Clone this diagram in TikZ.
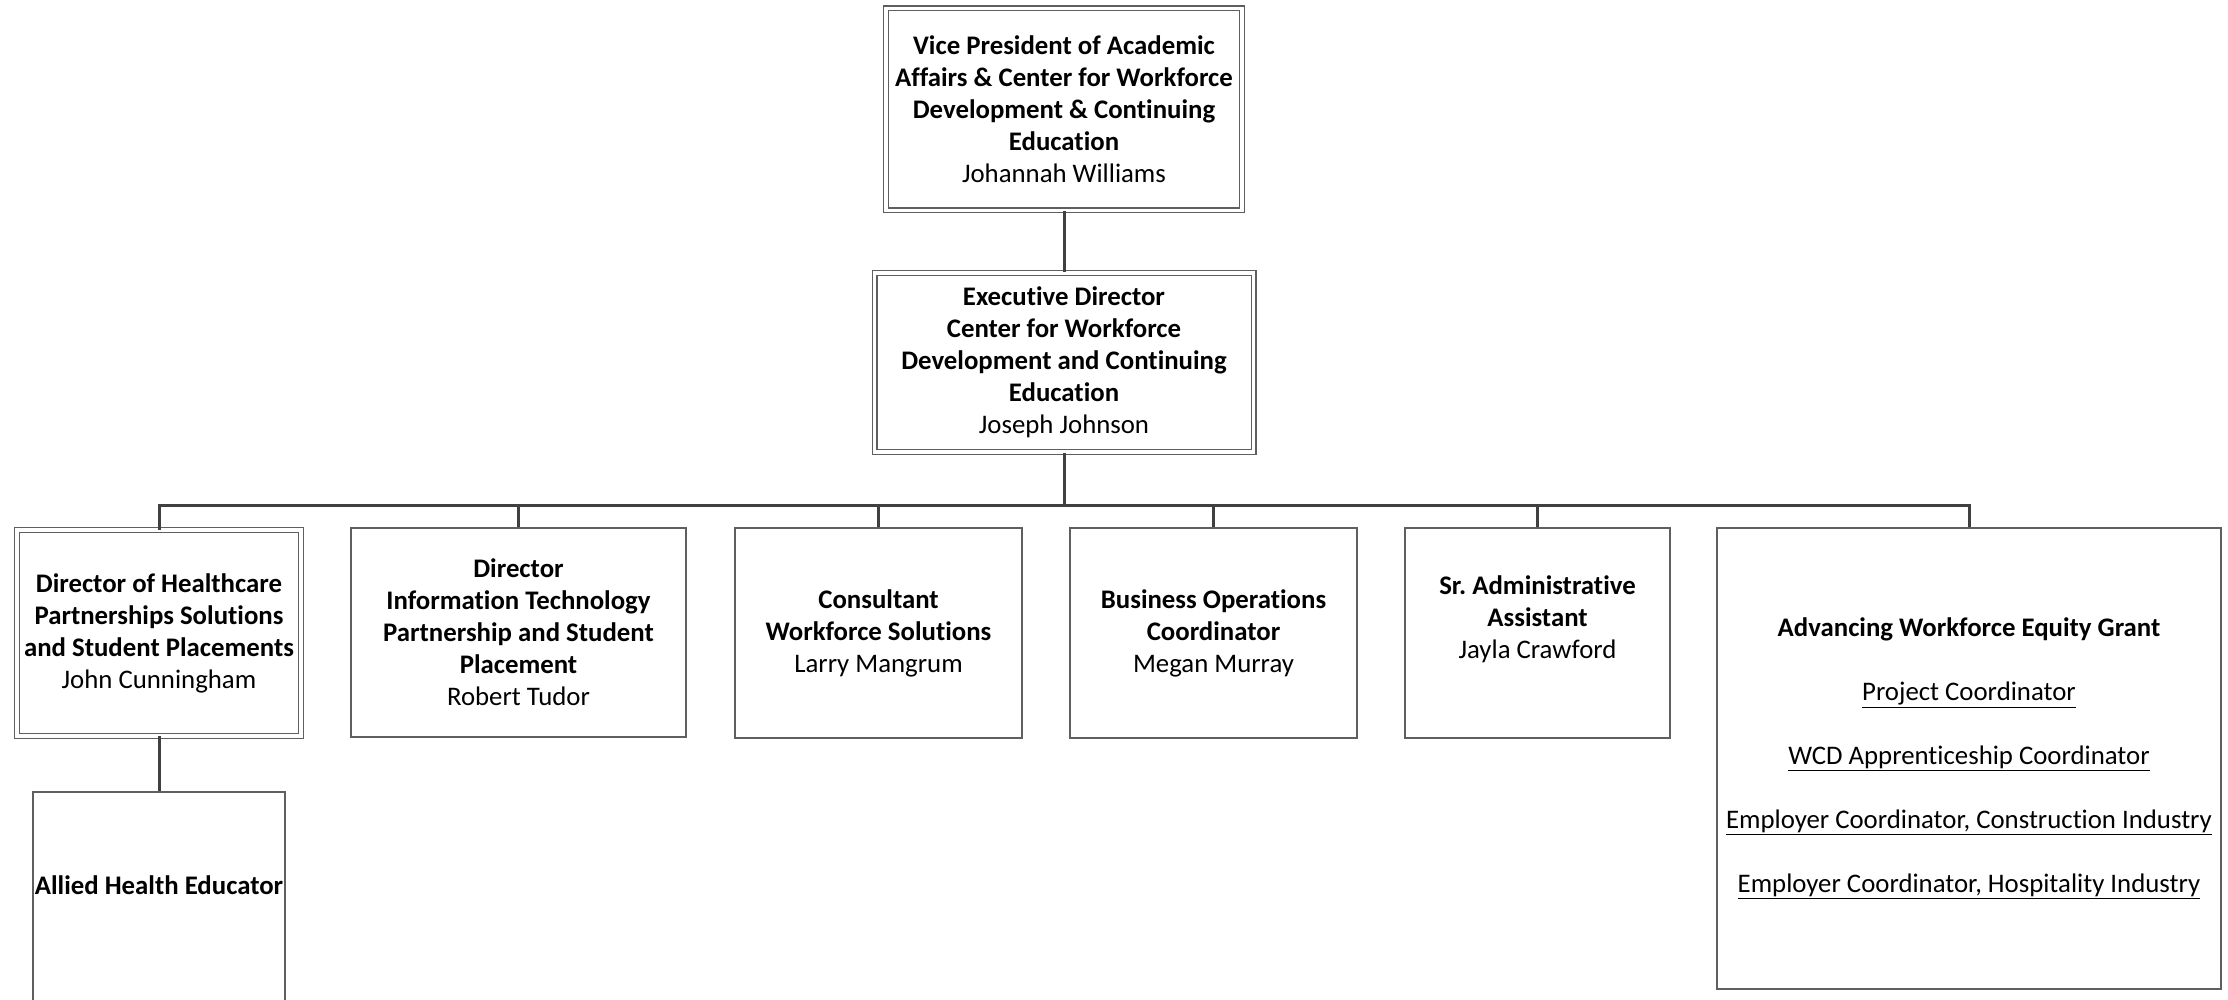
\documentclass[tikz,border=0pt]{standalone}
\usepackage{fontspec}
\setmainfont{Carlito}[Ligatures={NoCommon}]
\definecolor{boxgray}{RGB}{95,95,95}
\definecolor{conngray}{RGB}{64,64,64}
\frenchspacing
\begin{document}
\begin{tikzpicture}[x=1pt,y=-1pt,
  box/.style={draw=boxgray, line width=1.2pt, rectangle, inner sep=0pt, align=center,
    font=\fontsize{26.8}{32}\selectfont, fill=white},
  dbox/.style={box, double=white, double distance=3.6pt},
  conn/.style={draw=conngray, line width=3pt}]
\useasboundingbox (0,0) rectangle (2228,1000);
\clip (0,0) rectangle (2228,1000);

\node[dbox, minimum width=356pt, minimum height=202pt] (vp) at (1064,109.5)
  {\textbf{Vice President of Academic}\\ \textbf{Affairs \& Center for Workforce}\\
   \textbf{Development \& Continuing}\\ \textbf{Education}\\ Johannah Williams};

\node[dbox, minimum width=379pt, minimum height=179pt] (ed) at (1064,362.5)
  {\textbf{Executive Director}\\ \textbf{Center for Workforce}\\
   \textbf{Development and Continuing}\\ \textbf{Education}\\ Joseph Johnson};

\node[dbox, minimum width=284pt, minimum height=205.5pt] (hc) at (159,633)
  {\textbf{Director of Healthcare}\\ \textbf{Partnerships Solutions}\\
   \textbf{and Student Placements}\\ John Cunningham};

\node[box, minimum width=335pt, minimum height=209pt] (it) at (518.5,632.5)
  {\textbf{Director}\\ \textbf{Information Technology}\\ \textbf{Partnership and Student}\\
   \textbf{Placement}\\ Robert Tudor};

\node[box, minimum width=287pt, minimum height=210pt] (cons) at (878.5,633)
  {\textbf{Consultant}\\ \textbf{Workforce Solutions}\\ Larry Mangrum};

\node[box, minimum width=287pt, minimum height=210pt] (bus) at (1213.5,633)
  {\textbf{Business Operations}\\ \textbf{Coordinator}\\ Megan Murray};

\node[box, minimum width=265pt, minimum height=210pt] (sra) at (1537.5,633)
  {\textbf{Sr. Administrative}\\ \textbf{Assistant}\\ Jayla Crawford\\ \mbox{}};

\node[box, minimum width=504pt, minimum height=461pt] (awe) at (1969,758.5)
  {\textbf{Advancing Workforce Equity Grant}\\[32pt]
   \underline{Project Coordinator}\\[32pt]
   \underline{WCD Apprenticeship Coordinator}\\[32pt]
   \underline{Employer Coordinator, Construction Industry}\\[32pt]
   \underline{Employer Coordinator, Hospitality Industry}};

\node[box, minimum width=252pt, minimum height=218pt] (ah) at (159,901)
  {\textbf{Allied Health Educator}\\ \mbox{}};

\coordinate (bar) at (1064,505);
\draw[conn] (vp.south) -- (ed.north);
\draw[conn] (ed.south) -- (bar);
\draw[conn, line join=miter] (hc.north) -- (hc.north |- bar) -- (awe.north |- bar) -- (awe.north);
\foreach \n in {it,cons,bus,sra} { \draw[conn] (\n.north) -- (\n.north |- bar); }
\draw[conn] (hc.south) -- (ah.north);
\end{tikzpicture}
\end{document}
